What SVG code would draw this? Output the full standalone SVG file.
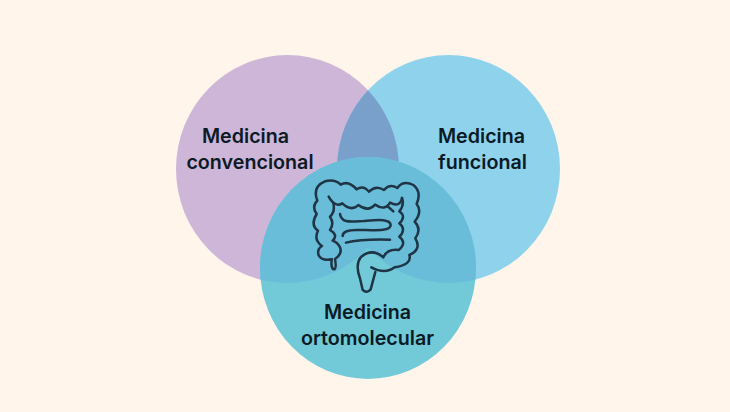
<svg xmlns="http://www.w3.org/2000/svg" width="730" height="412" viewBox="0 0 730 412">
  <style>
    .label { font-family: "Inter", "Liberation Sans", sans-serif; font-size: 19.700px; font-weight: 600; fill: #0b1a24; text-anchor: middle; }
    .gut { fill: none; stroke: #1f3444; stroke-width: 7.500; stroke-linecap: round; stroke-linejoin: round; }
  </style>
  <defs>
    <clipPath id="clip-left"><ellipse cx="287.500" cy="169" rx="111.500" ry="114"/></clipPath>
    <clipPath id="clip-bottom"><ellipse cx="368" cy="268" rx="108" ry="111"/></clipPath>
  </defs>
  <rect width="730" height="412" fill="#fff5eb"/>
  <g id="connectors"/>
  <g id="node-convencional">
    <ellipse cx="287.500" cy="169" rx="111.500" ry="114" fill="#cdb6d8"/>
  </g>
  <g id="node-funcional">
    <ellipse cx="448.500" cy="169" rx="111.500" ry="114" fill="#8fd2ec"/>
    <g clip-path="url(#clip-left)"><ellipse cx="448.500" cy="169" rx="111.500" ry="114" fill="#799fcb"/></g>
  </g>
  <g id="node-ortomolecular">
    <ellipse cx="368" cy="268" rx="108" ry="111" fill="#72cad9"/>
    <g clip-path="url(#clip-bottom)">
      <ellipse cx="287.500" cy="169" rx="111.500" ry="114" fill="#69bdd9"/>
      <ellipse cx="448.500" cy="169" rx="111.500" ry="114" fill="#69bdd9"/>
    </g>
  </g>
  <g id="node-intestine" transform="translate(300 170) scale(0.3333)">
    <!-- colon outline, from the appendix round to the rectum and back along the inner wall -->
    <path class="gut" d="M95 268 Q92 298 103 298 Q110 295 105 267 Q128 252 120 232 Q112 215 98 212 Q116 195 90 180 Q104 160 90 140 Q106 125 100 100"/>
    <path class="gut" d="M95 268 Q66 274 56 256 Q50 238 66 228 Q40 210 54 182 Q30 165 50 132 Q34 110 52 92 Q36 50 75 34 Q105 26 122 44 Q145 30 170 58 Q190 44 207 65 Q228 44 252 60 Q270 40 292 54 Q310 30 340 45 Q366 65 350 102 Q368 125 344 155 Q366 178 346 205 Q366 238 328 255 Q337 284 284 292 Q255 314 214 292"/>
    <path class="gut" d="M226 306 L212 358 Q200 372 188 360 L180 325 Q165 285 182 262 Q215 232 250 262 Q262 236 296 240 Q322 218 298 200 Q320 178 298 160 Q320 140 298 124 Q314 105 306 84"/>
    <path class="gut" d="M306 84 Q300 114 270 98 Q255 124 225 104 Q205 127 175 105 Q155 126 127 100 Q105 114 86 80"/>
    <path class="gut" d="M262 108 L280 124"/>
    <!-- small intestine loops -->
    <path class="gut" d="M120 132 C125 160 150 155 190 153 C230 150 270 145 272 165 C272 185 220 180 170 180 C140 180 128 185 128 198"/>
    <path class="gut" d="M138 218 C170 210 230 208 270 209"/>
  </g>
  <g id="label-convencional">
    <text class="label" x="245.500" y="142.500">Medicina</text>
    <text class="label" x="250" y="168.500">convencional</text>
  </g>
  <g id="label-funcional">
    <text class="label" x="481.500" y="142.500">Medicina</text>
    <text class="label" x="482.500" y="168.500">funcional</text>
  </g>
  <g id="label-ortomolecular">
    <text class="label" x="367.500" y="319">Medicina</text>
    <text class="label" x="367.500" y="345">ortomolecular</text>
  </g>
</svg>
